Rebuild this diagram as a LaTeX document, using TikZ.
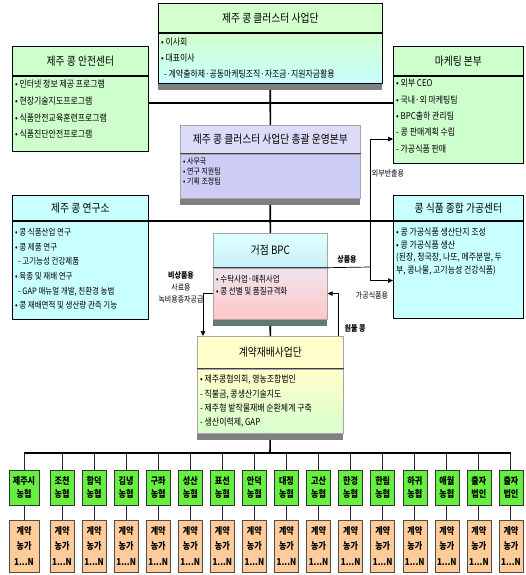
\documentclass[tikz,border=0pt]{standalone}
\usepackage{fontspec}
\setmainfont{Noto Sans CJK KR}[FakeStretch=0.85]
\usetikzlibrary{arrows.meta, calc}
\definecolor{ttlgreen}{HTML}{D2FFCC}
\definecolor{bodygreen}{HTML}{CCFFCC}
\definecolor{bodycyan}{HTML}{C8FFFF}
\definecolor{hqtitle}{HTML}{DCDCF8}
\definecolor{hqbody}{HTML}{CCCCF6}
\definecolor{bpctop}{HTML}{E2FFFF}
\definecolor{bpcbot}{HTML}{C6F2F6}
\definecolor{pinktop}{HTML}{EEE4EE}
\definecolor{pinkbot}{HTML}{FFC6C6}
\definecolor{ylwtitle}{HTML}{FFFFCC}
\definecolor{ylwbot}{HTML}{D6FFCC}
\definecolor{nhgreen}{HTML}{66EE40}
\definecolor{farmorange}{HTML}{FFCC99}
\definecolor{bargray}{HTML}{808080}
\definecolor{barteal}{HTML}{637777}
\tikzset{
  ttl/.style={rectangle, draw=black, line width=0.7pt, inner sep=0pt, anchor=north west,
              font=\fontsize{11.5}{13}\selectfont},
  bdy/.style={rectangle, draw=black, line width=0.7pt, inner sep=0pt, anchor=north west},
  soft/.style={draw=black!35},
  txt/.style={anchor=north west, inner sep=0pt, align=left},
  bar/.style={rectangle, inner sep=0pt, minimum height=6, anchor=north west, fill=bargray},
  sep/.style={line width=0.8pt, draw=black!75},
  lbl/.style={inner sep=0pt, font=\fontsize{8.2}{12}\selectfont},
  lblb/.style={lbl, font=\bfseries\fontsize{8.2}{12}\selectfont},
  nh/.style={rectangle, draw=black!80, line width=0.5pt, fill=nhgreen, inner sep=0pt,
             minimum height=35, align=center, font=\bfseries\fontsize{9.5}{13}\selectfont},
  farm/.style={rectangle, draw=black!70, line width=0.5pt, fill=farmorange, inner sep=0pt,
               minimum height=52, align=center, font=\bfseries\fontsize{9.5}{15.5}\selectfont},
  link/.style={line width=1.6pt, draw=black},
  drop/.style={line width=1pt, draw=black!85},
  feed/.style={line width=0.7pt, draw=black},
  arr/.style={feed, -{Triangle[length=5pt,width=4.5pt]}},
}

\begin{document}
\begin{tikzpicture}[x=1pt, y=-1pt]
\fill[white] (0,0) rectangle (525,575);
\useasboundingbox (0,0) rectangle (525,575);

% Top: cluster organisation
\node[ttl, minimum width=224, minimum height=29, fill=ttlgreen] (clu) at (158,3) {제주 콩 클러스터 사업단};
\node[bdy, minimum width=224, minimum height=50, top color=ttlgreen, bottom color=bodycyan] (clu-b) at (clu.south west) {};
\node[bar, minimum width=224] (clu-s) at (clu-b.south west) {};
\node[txt, font=\fontsize{9.3}{16}\selectfont] at (161,38)
  {• 이사회\\• 대표이사\\\hspace{3pt}- 계약출하제·공동마케팅조직·자조금·지원자금활용};

% Side boxes, first row
\node[ttl, minimum width=136, minimum height=29, fill=bodygreen] (safe) at (12,46) {제주 콩 안전센터};
\node[bdy, minimum width=136, minimum height=75, fill=bodygreen] (safe-b) at (safe.south west) {};
\node[txt, font=\fontsize{9.3}{16.6}\selectfont] at (15,80)
  {• 인터넷 정보 제공 프로그램\\• 현장기술지도프로그램\\• 식품안전교육훈련프로그램\\• 식품진단안전프로그램};

\node[ttl, minimum width=130, minimum height=29, fill=bodygreen] (mkt) at (393,46) {마케팅 본부};
\node[bdy, minimum width=130, minimum height=87, fill=bodygreen] (mkt-b) at (mkt.south west) {};
\node[txt, font=\fontsize{9.3}{16.3}\selectfont] at (396,79)
  {• 외부 CEO\\• 국내·외 마케팅팀\\• BPC출하 관리팀\\- 콩 판매계획 수립\\- 가공식품 판매};

% Head office
\node[ttl, soft, minimum width=180, minimum height=28, fill=hqtitle] (hq) at (180,125) {제주 콩 클러스터 사업단 총괄 운영본부};
\node[bdy, soft, minimum width=180, minimum height=44, fill=hqbody] (hq-b) at (hq.south west) {};
\node[bar, minimum width=180] (hq-s) at (hq-b.south west) {};
\draw[sep] (hq.south west) -- (hq.south east);
\node[txt, font=\fontsize{8.2}{9.8}\selectfont] at (183,158)
  {• 사무국\\• 연구 지원팀\\• 기획 조정팀};

% Side boxes, second row
\node[ttl, minimum width=136, minimum height=25, fill=bodycyan] (lab) at (12,195) {제주 콩 연구소};
\node[bdy, minimum width=136, minimum height=98, fill=bodycyan] (lab-b) at (lab.south west) {};
\node[txt, font=\fontsize{8.8}{14.7}\selectfont] at (15,228)
  {• 콩 식품산업 연구\\• 콩 제품 연구\\\hspace{3pt}- 고기능성 건강제품\\• 육종 및 재배 연구\\\hspace{3pt}- GAP 매뉴얼 개발, 친환경 농법\\• 콩 재배면적 및 생산량 관측 기능};

\node[ttl, minimum width=130, minimum height=25, fill=bodycyan] (proc) at (393,195) {콩 식품 종합 가공센터};
\node[bdy, minimum width=130, minimum height=97, fill=bodycyan] (proc-b) at (proc.south west) {};
\node[txt, font=\fontsize{9.3}{12.4}\selectfont] at (396,228)
  {• 콩 가공식품 생산단지 조성\\• 콩 가공식품 생산\\(된장, 청국장, 나또, 메주분말, 두\\부, 콩나물, 고기능성 건강식품)};

% BPC
\node[ttl, soft, minimum width=114, minimum height=34, top color=bpctop, bottom color=bpcbot] (bpc) at (213,233) {거점 BPC};
\node[bdy, soft, minimum width=114, minimum height=51, top color=pinktop, bottom color=pinkbot] (bpc-b) at (bpc.south west) {};
\node[bar, minimum width=114, fill=barteal] (bpc-s) at (bpc-b.south west) {};
\draw[sep] (bpc.south west) -- (bpc.south east);
\node[txt, font=\fontsize{8.8}{12}\selectfont] at (216,275)
  {• 수탁사업·매취사업\\• 콩 선별 및 품질규격화};

% Contract farming
\node[ttl, soft, minimum width=146, minimum height=32, fill=ylwtitle] (con) at (197,336) {계약재배사업단};
\node[bdy, soft, minimum width=146, minimum height=64, top color=ylwtitle, bottom color=ylwbot] (con-b) at (con.south west) {};
\node[bar, minimum width=146] (con-s) at (con-b.south west) {};
\draw[sep] (con.south west) -- (con.south east);
\node[txt, font=\fontsize{9.3}{14.3}\selectfont] at (200,375)
  {• 제주콩협의회, 영농조합법인\\- 직불금, 콩생산기술지도\\- 제주형 밭작물재배 순환체계 구축\\- 생산이력제, GAP};

% Main links
\coordinate (row1) at (270,103);
\draw[link] (clu-s.south) -- (hq.north);
\draw[link] (safe-b.east |- row1) -- (mkt-b.west |- row1);
\draw[link] (hq-s.south) -- (bpc.north);
\draw[link] (lab.south east) -- (proc.south west);
\draw[link] (bpc-s.south) -- (con.north);

% Product flows
\coordinate (jn) at (370,267);
\draw[feed] (bpc.south east) -- (jn);
\draw[arr] (jn) |- ([yshift=-19.5pt]mkt-b.west);
\draw[arr] (jn) |- ([yshift=-11pt]proc-b.west);
\draw[arr] (bpc-b.west) -| ([xshift=6pt]con.north west);
\draw[arr] ([xshift=-5pt]con.north east) |- (bpc-b.east);
\node[lbl] (l-out) at (388,173) {외부반출용};
\node[lblb] (l-goods) at (347,259) {상품용};
\node[lbl] (l-proc) at (372,295) {가공식품용};
\node[lblb] (l-raw) at (355,328) {원물 콩};
\node[lbl, align=center] (l-non) at (181,287) {\textbf{비상품용}\\사료용\\녹비용종자공급};

% Member cooperatives and farms
\coordinate (bus) at (270,453);
\foreach \a/\b [count=\i] in {제주시/농협, 조천/농협, 함덕/농협, 김녕/농협, 구좌/농협, 성산/농협,
    표선/농협, 안덕/농협, 대정/농협, 고산/농협, 한경/농협, 한림/농협, 하귀/농협, 애월/농협,
    출자/법인, 출자/법인} {
  \pgfmathsetmacro\cx{\i==1 ? 24 : 62+32.07*(\i-2)}
  \pgfmathsetmacro\bw{\i==1 ? 30 : 24}
  \node[nh, minimum width=\bw] (n\i) at (\cx,487.5) {\a\\\b};
  \node[farm, minimum width=\bw] (f\i) at (\cx,546) {계약\\농가\\1...N};
}
\draw[link] (con-s.south) -- (bus);
\draw[link] (n1.north |- bus) -- (n16.north |- bus);
\foreach \i in {1,...,16} {
  \draw[drop] (n\i.north |- bus) -- (n\i.north);
  \draw[drop] (n\i.south) -- (f\i.north);
}

\end{tikzpicture}
\end{document}
